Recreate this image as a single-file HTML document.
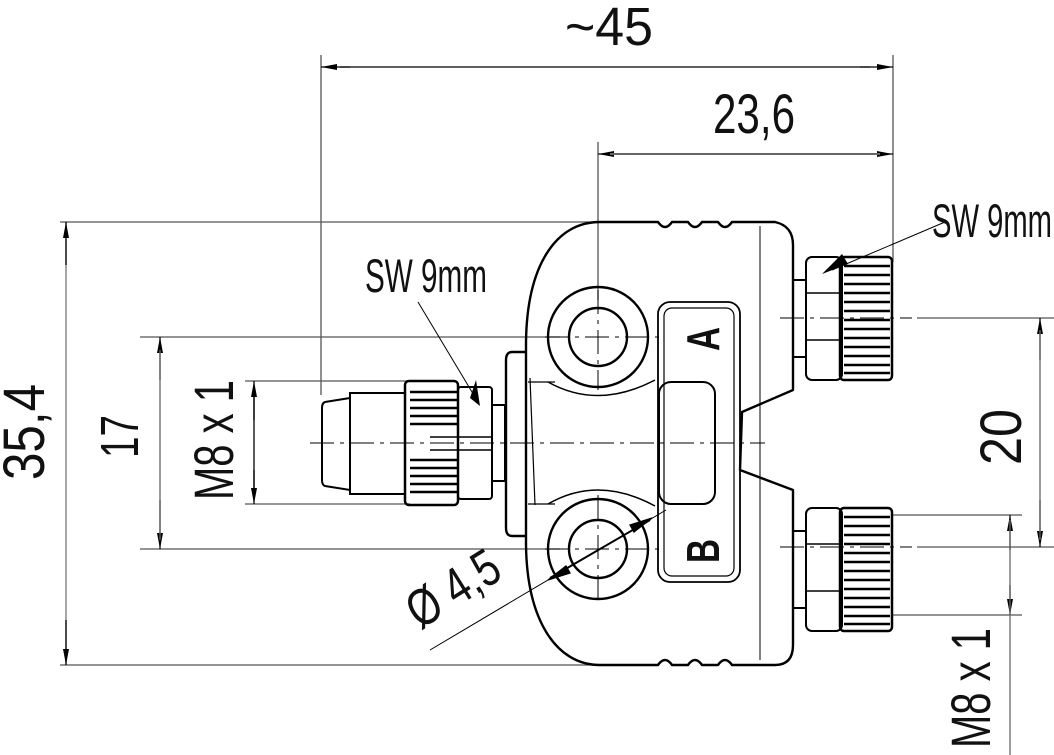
<!DOCTYPE html>
<html><head><meta charset="utf-8"><style>
html,body{margin:0;padding:0;background:#fff;}
svg{display:block;}
text{font-family:"Liberation Sans",sans-serif;fill:#111;}
</style></head><body>
<svg width="1054" height="755" viewBox="0 0 1054 755" xmlns="http://www.w3.org/2000/svg">
<defs>
<marker id="ar" markerWidth="16" markerHeight="6" refX="16" refY="3" orient="auto" markerUnits="userSpaceOnUse">
<path d="M0,0 L16,3 L0,6 Z" fill="#000"/></marker>
</defs>
<g stroke="#555" stroke-width="1.3" fill="none">
<line x1="321" y1="55" x2="321" y2="395"/>
<line x1="893" y1="55" x2="893" y2="262"/>
<line x1="598" y1="142" x2="598" y2="300"/>
<line x1="60" y1="222" x2="610" y2="222"/>
<line x1="60" y1="665" x2="610" y2="665"/>
<line x1="66" y1="222" x2="66" y2="665" stroke="#777"/>
<line x1="140" y1="337" x2="560" y2="337"/>
<line x1="140" y1="549" x2="560" y2="549"/>
<line x1="245" y1="381" x2="410" y2="381"/>
<line x1="245" y1="504" x2="410" y2="504"/>
<line x1="893" y1="515" x2="1022" y2="515"/>
<line x1="893" y1="615" x2="1022" y2="615"/>
<line x1="917" y1="318" x2="1054" y2="318"/>
<line x1="917" y1="547" x2="1054" y2="547"/>
</g>
<g stroke="#000" stroke-width="1.3" fill="none">
<line x1="350" y1="67" x2="321" y2="67" marker-end="url(#ar)"/>
<line x1="860" y1="67" x2="893" y2="67" marker-end="url(#ar)"/>
<line x1="340" y1="67" x2="870" y2="67"/>
<line x1="630" y1="154" x2="598" y2="154" marker-end="url(#ar)"/>
<line x1="860" y1="154" x2="893" y2="154" marker-end="url(#ar)"/>
<line x1="610" y1="154" x2="880" y2="154" stroke="#666" stroke-width="2"/>
<line x1="160" y1="380" x2="160" y2="337" marker-end="url(#ar)"/>
<line x1="160" y1="500" x2="160" y2="549" marker-end="url(#ar)"/>
<line x1="160" y1="350" x2="160" y2="540" stroke="#666"/>
<line x1="254" y1="420" x2="254" y2="381" marker-end="url(#ar)"/>
<line x1="254" y1="470" x2="254" y2="504" marker-end="url(#ar)"/>
<line x1="254" y1="390" x2="254" y2="495"/>
<line x1="1040" y1="360" x2="1040" y2="318" marker-end="url(#ar)"/>
<line x1="1040" y1="500" x2="1040" y2="547" marker-end="url(#ar)"/>
<line x1="1040" y1="330" x2="1040" y2="540" stroke="#666"/>
<line x1="1010" y1="550" x2="1010" y2="515" marker-end="url(#ar)"/>
<line x1="1010" y1="585" x2="1010" y2="615" marker-end="url(#ar)"/>
<line x1="1010" y1="520" x2="1010" y2="755" stroke="#666"/>
<line x1="66" y1="265" x2="66" y2="222" marker-end="url(#ar)"/>
<line x1="66" y1="620" x2="66" y2="665" marker-end="url(#ar)"/>
<line x1="418" y1="302" x2="478" y2="402" stroke-width="1"/>
<path d="M470,398 L480,406 L476,380 Z" fill="#000" stroke="none"/>
<line x1="945" y1="222" x2="832" y2="270" stroke-width="1"/>
<path d="M822,274 L848,264 L842,254 Z" fill="#000" stroke="none"/>
<line x1="430" y1="650" x2="666" y2="510" stroke-width="1"/>
<line x1="550" y1="578" x2="650" y2="520" stroke-width="2"/>
<path d="M548,580 L566,566 L570,573 Z" fill="#000"/>
<path d="M652,518 L634,532 L630,525 Z" fill="#000"/>
</g>

<g stroke="#000" stroke-width="2.4" fill="none" stroke-linejoin="round">
<path d="M600,222 L658,222 Q665,232 672,222 L688,222 Q695,232 702,222 L718,222 Q725,232 732,222 L775,222 Q793,226 793,245 L793,390 L742,412 L740,470 L793,490 L793,645 Q793,665 775,665 L732,665 Q725,655 718,665 L702,665 Q695,655 688,665 L672,665 Q665,655 658,665 L600,665 C556,665 527,620 526,545 L526,342 C527,265 556,222 600,222 Z"/>
<path d="M526,352 L512,352 Q506,352 506,360 L506,528 Q506,536 512,536 L526,536"/>
<circle cx="598" cy="337" r="50"/>
<circle cx="598" cy="337" r="29"/>
<circle cx="598" cy="549" r="50"/>
<circle cx="598" cy="549" r="29"/>
<path d="M548,382 Q598,410 655,380" stroke-width="1.5"/>
<path d="M548,504 Q598,475 655,506" stroke-width="1.5"/>
<rect x="658" y="302" width="82" height="280" rx="12" stroke-width="1.8"/>
<rect x="664" y="308" width="70" height="268" rx="8" stroke-width="1.2"/>
<rect x="659" y="382" width="56" height="122" rx="12" stroke-width="2"/>
<path d="M530,378 L535,505" stroke-width="1.2"/>
<path d="M528,382 L555,382 M528,504 L555,504" stroke-width="1.2"/>
<path d="M760,226 L760,660" stroke-width="1"/>
</g>
<text transform="translate(719,339) rotate(-90)" font-size="46" font-weight="bold" text-anchor="middle" textLength="24" lengthAdjust="spacingAndGlyphs">A</text>
<text transform="translate(719,551) rotate(-90)" font-size="46" font-weight="bold" text-anchor="middle" textLength="24" lengthAdjust="spacingAndGlyphs">B</text>

<g stroke="#000" stroke-width="2" fill="none">
<path d="M350,398 L325,402 Q322,403 322,408 L322,480 Q322,485 325,486 L350,490 Z"/>
<rect x="350" y="393" width="55" height="101"/>
<rect x="405" y="381" width="53" height="124" rx="4" stroke-width="2.5"/>
<rect x="458" y="387" width="34" height="112" rx="3"/>
<rect x="492" y="405" width="13" height="76"/>
<path d="M410,392 L458,392 M410,400 L458,400 M410,408 L458,408 M410,416 L458,416 M410,424 L458,424 M410,460 L458,460 M410,468 L458,468 M410,476 L458,476 M410,484 L458,484 M410,492 L458,492" stroke-width="2.5"/>
<path d="M430,437 L492,437 M430,450 L492,450" stroke-width="1.5"/>
</g>
<g stroke="#000" stroke-width="2" fill="none">
<g id="rc">
<rect x="806" y="257" width="36" height="123" rx="6"/>
<rect x="840" y="257" width="52" height="123" rx="4" stroke-width="2.5"/>
<rect x="793" y="280" width="13" height="77"/>
<path d="M844,266 L890,266 M844,275 L890,275 M844,284 L890,284 M844,293 L890,293 M844,302 L890,302 M844,311 L890,311 M844,320 L890,320 M844,329 L890,329 M844,338 L890,338 M844,347 L890,347 M844,356 L890,356 M844,365 L890,365 M844,373 L890,373" stroke-width="2.5"/>
<path d="M806,293 L840,293 M806,340 L840,340" stroke-width="1.5"/>
</g>
<use href="#rc" transform="translate(0,251)"/>
</g>

<g stroke="#000" stroke-width="1" fill="none" stroke-dasharray="24,6,4,6">
<line x1="310" y1="443" x2="765" y2="443"/>
<line x1="545" y1="337" x2="660" y2="337"/>
<line x1="545" y1="549" x2="660" y2="549"/>
<line x1="598" y1="290" x2="598" y2="390"/>
<line x1="598" y1="495" x2="598" y2="605"/>
<line x1="780" y1="318" x2="912" y2="318"/>
<line x1="780" y1="547" x2="912" y2="547"/>
</g>

<text x="565" y="45" font-size="54" textLength="88" lengthAdjust="spacingAndGlyphs">~45</text>
<text x="713" y="133" font-size="56" textLength="82" lengthAdjust="spacingAndGlyphs">23,6</text>
<text transform="translate(44,480) rotate(-90)" font-size="58" textLength="96" lengthAdjust="spacingAndGlyphs">35,4</text>
<text transform="translate(138,458) rotate(-90)" font-size="54" textLength="43" lengthAdjust="spacingAndGlyphs">17</text>
<text transform="translate(233,500) rotate(-90)" font-size="56" textLength="120" lengthAdjust="spacingAndGlyphs">M8 x 1</text>
<text transform="translate(1021,465) rotate(-90)" font-size="58" textLength="56" lengthAdjust="spacingAndGlyphs">20</text>
<text transform="translate(990,748) rotate(-90)" font-size="56" textLength="120" lengthAdjust="spacingAndGlyphs">M8 x 1</text>
<text x="365" y="292" font-size="47" textLength="122" lengthAdjust="spacingAndGlyphs">SW 9mm</text>
<text x="932" y="237" font-size="47" textLength="120" lengthAdjust="spacingAndGlyphs">SW 9mm</text>
<text transform="translate(420,630) rotate(-32)" font-size="52" textLength="100" lengthAdjust="spacingAndGlyphs">Ø 4,5</text>
</svg>
</body></html>
